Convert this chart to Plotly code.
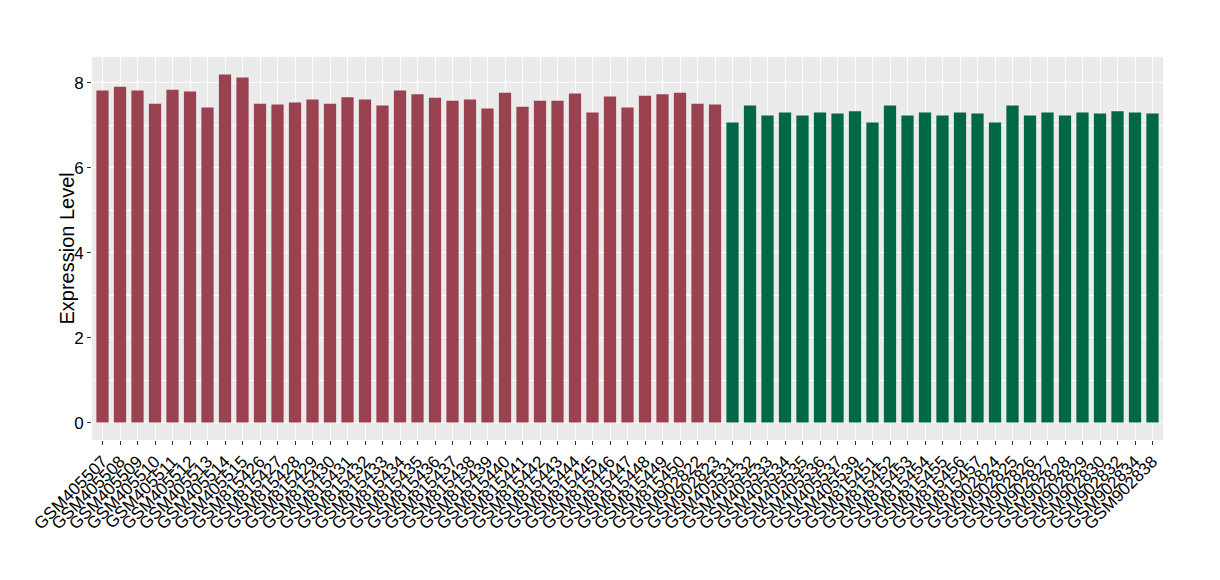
import plotly.graph_objects as go

red_samples = ["GSM405507", "GSM405508", "GSM405509", "GSM405510", "GSM405511", "GSM405512",
               "GSM405513", "GSM405514", "GSM405515", "GSM815426", "GSM815427", "GSM815428",
               "GSM815429", "GSM815430", "GSM815431", "GSM815432", "GSM815433", "GSM815434",
               "GSM815435", "GSM815436", "GSM815437", "GSM815438", "GSM815439", "GSM815440",
               "GSM815441", "GSM815442", "GSM815443", "GSM815444", "GSM815445", "GSM815446",
               "GSM815447", "GSM815448", "GSM815449", "GSM815450", "GSM902822", "GSM902823"]
red_values = [7.82, 7.91, 7.82, 7.51, 7.84, 7.80, 7.42, 8.20, 8.13, 7.51, 7.49, 7.54,
              7.61, 7.51, 7.66, 7.61, 7.47, 7.82, 7.73, 7.65, 7.58, 7.61, 7.40, 7.77,
              7.44, 7.58, 7.58, 7.75, 7.30, 7.68, 7.42, 7.70, 7.73, 7.77, 7.51, 7.49]

green_samples = ["GSM405531", "GSM405532", "GSM405533", "GSM405534", "GSM405535", "GSM405536",
                 "GSM405537", "GSM405539", "GSM815451", "GSM815452", "GSM815453", "GSM815454",
                 "GSM815455", "GSM815456", "GSM815457", "GSM902824", "GSM902825", "GSM902826",
                 "GSM902827", "GSM902828", "GSM902829", "GSM902830", "GSM902832", "GSM902834",
                 "GSM902838"]
green_values = [7.07, 7.47, 7.23, 7.30, 7.23, 7.30, 7.28, 7.33, 7.07, 7.47, 7.23, 7.30,
                7.23, 7.30, 7.28, 7.07, 7.47, 7.23, 7.30, 7.23, 7.30, 7.28, 7.33, 7.30,
                7.28]

y_ticks = [0, 2, 4, 6, 8]
y_minor_ticks = [1, 3, 5, 7]
y_title = "Expression Level"

samples = red_samples + green_samples

fig = go.Figure()
fig.add_trace(go.Bar(x=red_samples, y=red_values, marker=dict(color="#9B4251", line=dict(width=0)),
                     width=0.7, showlegend=False))
fig.add_trace(go.Bar(x=green_samples, y=green_values, marker=dict(color="#006747", line=dict(width=0)),
                     width=0.7, showlegend=False))

fig.update_layout(
    width=1220, height=580,
    margin=dict(l=84, r=65, t=49, b=148),
    paper_bgcolor="white",
    plot_bgcolor="#EBEBEB",
    font=dict(family="Liberation Sans, Arial, sans-serif", color="black"),
    bargap=0.3,
)
fig.add_annotation(
    text=y_title, textangle=-90, xref="paper", yref="paper", x=0, y=0.5,
    xanchor="center", yanchor="middle", xshift=-26, showarrow=False,
    font=dict(size=20, color="black"),
)
fig.update_xaxes(
    type="category", categoryorder="array", categoryarray=samples,
    tickmode="array", tickvals=samples, ticktext=samples,
    range=[-0.6, len(samples) - 0.4],
    tickangle=-45, tickfont=dict(size=17, color="black"),
    showgrid=True, gridcolor="white", gridwidth=1.2,
    ticks="outside", ticklen=4, tickcolor="#333333", tickwidth=1,
    showline=False, zeroline=False, automargin=False,
)
fig.update_yaxes(
    range=[-0.41, 8.61], tickmode="array", tickvals=y_ticks,
    tickfont=dict(size=17, color="black"),
    showgrid=True, gridcolor="white", gridwidth=1.2,
    minor=dict(tickvals=y_minor_ticks, showgrid=True, gridcolor="white", gridwidth=0.6),
    ticks="outside", ticklen=4, tickcolor="#333333", tickwidth=1,
    showline=False, zeroline=False, automargin=False,
)

fig.write_html("out.html")
